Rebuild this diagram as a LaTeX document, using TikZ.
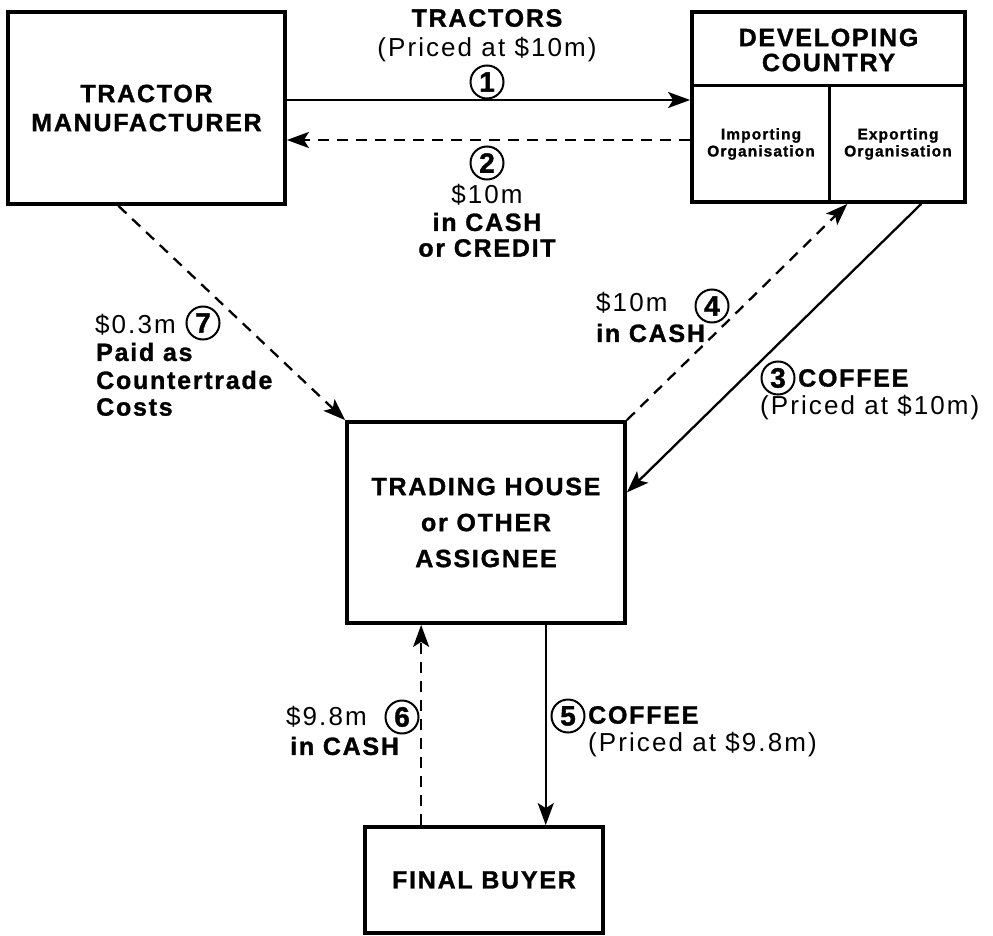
\documentclass[tikz,border=0pt]{standalone}
\usepackage{fontspec}
\setmainfont{Liberation Sans}
\newfontfamily\lsfont[LetterSpace=7, BoldFeatures={FakeBold=1.2}]{Liberation Sans}
\newfontfamily\rgfont[LetterSpace=8]{Liberation Sans}
\newfontfamily\numfont[BoldFeatures={FakeBold=1.2}]{Liberation Sans}
\usetikzlibrary{arrows.meta,calc}
\tikzset{
  boxnode/.style={draw, line width=3.8pt, align=center, inner sep=0pt,
    font=\lsfont\bfseries\fontsize{25}{29}\selectfont},
  bt/.style={inner sep=0pt, align=left, font=\lsfont\bfseries\fontsize{25}{27}\selectfont},
  rt/.style={inner sep=0pt, align=left, font=\rgfont\fontsize{26}{27}\selectfont},
  st/.style={inner sep=0pt, align=center, font=\lsfont\bfseries\fontsize{15.5}{17}\selectfont},
  num/.style={circle, draw, line width=2pt, minimum size=33pt, inner sep=0pt,
    font=\numfont\bfseries\fontsize{28}{28}\selectfont},
  arr/.style={line width=2.3pt, -{Stealth[length=22pt,width=16pt,inset=5pt]}},
  darr/.style={arr, dash pattern=on 11pt off 8pt},
  divline/.style={line width=2.6pt}
}
\begin{document}
\begin{tikzpicture}[x=1pt,y=-1pt]
\useasboundingbox (0,0) rectangle (993,936);
% boxes
\node[boxnode, minimum width=277pt, minimum height=192pt] (tm) at (146.5,108) {TRACTOR\\MANUFACTURER};
\node[boxnode, minimum width=273pt, minimum height=190pt] (dc) at (828.5,107) {};
\node[boxnode, minimum width=278pt, minimum height=201pt, font=\lsfont\bfseries\fontsize{25}{36}\selectfont] (th) at (486,522.5) {TRADING HOUSE\\or OTHER\\ASSIGNEE};
\node[boxnode, minimum width=238pt, minimum height=106pt] (fb) at (484,880) {FINAL BUYER};
% developing country subdivisions
\coordinate (dcl) at ($(dc.north west)!0.39!(dc.south west)$);
\coordinate (dcr) at ($(dc.north east)!0.39!(dc.south east)$);
\draw[divline] (dcl) -- (dcr);
\coordinate (dcm) at ($(dcl)!0.504!(dcr)$);
\draw[divline] (dcm) -- (dcm |- dc.south);
\node[bt, align=center, font=\lsfont\bfseries\fontsize{25}{25}\selectfont] (dct) at (828.5,50) {DEVELOPING\\COUNTRY};
\node[st] (imp) at (761,144) {Importing\\Organisation};
\node[st] (exp) at (898,144) {Exporting\\Organisation};
% arrows 1 and 2
\draw[arr] ([yshift=8pt]tm.east) -- ([yshift=8pt]tm.east -| dc.west);
\draw[darr] ([yshift=-32pt]tm.east -| dc.west) -- ([yshift=-32pt]tm.east);
\node[bt] (l1a) at (487,18) {TRACTORS};
\node[rt] (l1b) at (487,50) {(Priced at \$10m)};
\node[num] (n1) at (487,82) {1};
\node[num] (n2) at (487,163) {2};
\node[rt] (l2a) at (487,195) {\$10m};
\node[bt] (l2b) at (487,222) {in CASH};
\node[bt] (l2c) at (487,248) {or CREDIT};
% arrow 3 and 4
\coordinate (a3s) at ($(dc.south west)!0.835!(dc.south east)$);
\coordinate (a3e) at ($(th.north east)!0.353!(th.south east)$);
\draw[arr] (a3s) -- (a3e);
\coordinate (a4e) at ($(dc.south west)!0.568!(dc.south east)$);
\draw[darr] (th.north east) -- (a4e);
\node[rt, anchor=west] (l4a) at (596,303) {\$10m};
\node[num] (n4) at (712,306) {4};
\node[bt, anchor=west] (l4b) at (596,333) {in CASH};
\node[num] (n3) at (778,378) {3};
\node[bt, anchor=west] (l3a) at (798,378) {COFFEE};
\node[rt, anchor=west] (l3b) at (760,408) {(Priced at \$10m)};
% arrow 7
\coordinate (a7s) at ($(tm.south west)!0.40!(tm.south east)$);
\draw[darr] (a7s) -- (th.north west);
\node[rt, anchor=west] (l7a) at (95,325) {\$0.3m};
\node[num] (n7) at (203,323) {7};
\node[bt, anchor=west] (l7b) at (96,352) {Paid as};
\node[bt, anchor=west] (l7c) at (96,380) {Countertrade};
\node[bt, anchor=west] (l7d) at (96,407) {Costs};
% arrows 5 and 6
\coordinate (a5s) at ($(th.south west)!0.712!(th.south east)$);
\draw[arr] (a5s) -- (a5s |- fb.north);
\coordinate (a6s) at ($(fb.north west)!0.24!(fb.north east)$);
\draw[darr] (a6s) -- (a6s |- th.south);
\node[num] (n5) at (568,716) {5};
\node[bt, anchor=west] (l5a) at (588,715) {COFFEE};
\node[rt, anchor=west] (l5b) at (588,745) {(Priced at \$9.8m)};
\node[rt, anchor=west] (l6a) at (286,717) {\$9.8m};
\node[num] (n6) at (402,717) {6};
\node[bt, anchor=west] (l6b) at (290,746) {in CASH};
\end{tikzpicture}
\end{document}
